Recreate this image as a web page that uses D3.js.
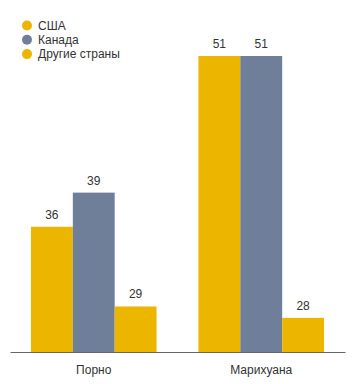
<!DOCTYPE html>
<html>
<head>
<meta charset="utf-8">
<script src="https://cdn.jsdelivr.net/npm/d3@7"></script>
<style>
  html, body { margin: 0; padding: 0; background: #fff; }
  svg { display: block; font-family: "Liberation Sans", Arial, sans-serif; }
</style>
</head>
<body>
<svg id="chart" width="355" height="384"></svg>
<script>
const categories = ["Порно", "Марихуана"];
const seriesNames = ["США", "Канада", "Другие страны"];
const seriesColors = ["#ECB500", "#6F7F99", "#ECB500"];
const valuesUSA = [36, 51];
const valuesCanada = [39, 51];
const valuesOther = [29, 28];
const yDomain = [25, 51];

const seriesValues = [valuesUSA, valuesCanada, valuesOther];
const svg = d3.select("#chart");

const x0 = d3.scaleBand().domain(categories).range([10, 345])
  .paddingInner(0.25).paddingOuter(0.125);
const x1 = d3.scaleBand().domain(d3.range(seriesNames.length)).range([0, x0.bandwidth()]);
const y = d3.scaleLinear().domain(yDomain).range([352, 56]);

const data = [];
categories.forEach((c, ci) => {
  seriesValues.forEach((vals, si) => data.push({ cat: c, s: si, v: vals[ci] }));
});

svg.append("g").selectAll("rect").data(data).join("rect")
  .attr("x", d => x0(d.cat) + x1(d.s))
  .attr("y", d => y(d.v))
  .attr("width", x1.bandwidth())
  .attr("height", d => y(yDomain[0]) - y(d.v))
  .attr("fill", d => seriesColors[d.s]);

svg.append("g").selectAll("text").data(data).join("text")
  .attr("x", d => x0(d.cat) + x1(d.s) + x1.bandwidth() / 2)
  .attr("y", d => y(d.v) - 8)
  .attr("text-anchor", "middle")
  .attr("font-size", 12)
  .attr("fill", "#333")
  .text(d => d.v);

const xAxis = svg.append("g").attr("transform", "translate(0,352)")
  .call(d3.axisBottom(x0).tickSize(0).tickPadding(13));
xAxis.select(".domain").attr("stroke", "#666").attr("d", "M10.5,0.5H345.5");
xAxis.selectAll("text").attr("font-size", 12).attr("fill", "#333")
  .attr("font-family", "'Liberation Sans', Arial, sans-serif");

const legend = svg.append("g").selectAll("g").data(seriesNames).join("g")
  .attr("transform", (d, i) => `translate(27,${25.5 + i * 14.3})`);
legend.append("circle").attr("r", 5).attr("fill", (d, i) => seriesColors[i]);
legend.append("text").attr("x", 11).attr("y", 4.3)
  .attr("font-size", 12).attr("fill", "#333").text(d => d);
</script>
</body>
</html>
